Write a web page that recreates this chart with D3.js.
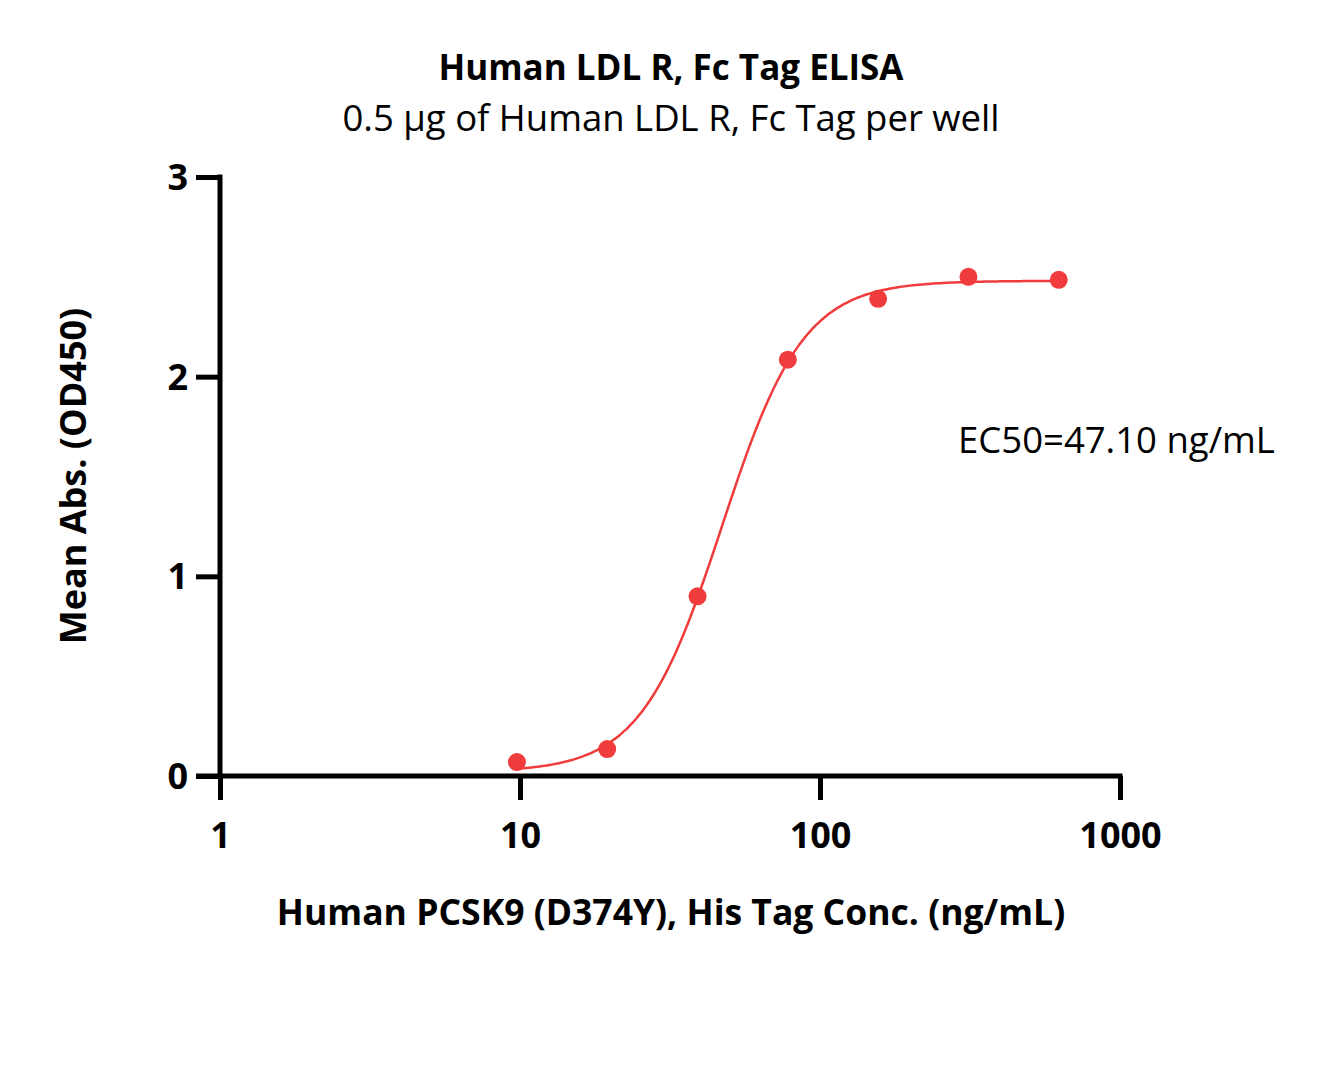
<!DOCTYPE html>
<html><head><meta charset="utf-8">
<script src="https://cdn.jsdelivr.net/npm/d3@7"></script>
<style>body{margin:0;background:#fff}svg{display:block}text{font-family:"Open Sans","Noto Sans",sans-serif}</style>
</head><body><svg id="c" width="1318" height="1083"></svg>
<script>
const concentrations = [9.77, 19.53, 39.06, 78.13, 156.25, 312.5, 625];
const meanAbs = [0.07, 0.135, 0.9, 2.085, 2.39, 2.5, 2.485];
const xTicks = [1, 10, 100, 1000];
const yTicks = [0, 1, 2, 3];
const fitTop = 2.48, fitBottom = 0.02, fitEC50 = 47.1, fitHill = 3.2;
const title = "Human LDL R, Fc Tag ELISA";
const subtitle = "0.5 µg of Human LDL R, Fc Tag per well";
const xLabel = "Human PCSK9 (D374Y), His Tag Conc. (ng/mL)";
const yLabel = "Mean Abs. (OD450)";
const ec50Label = "EC50=47.10 ng/mL";
const red = "#f03c3c";

const svg = d3.select("#c");
const x = d3.scaleLog().domain([1, 1000]).range([220, 1120]);
const y = d3.scaleLinear().domain([0, 3]).range([776, 177]);

svg.append("text").attr("x", 671).attr("y", 80).attr("text-anchor", "middle")
  .attr("font-size", 35).attr("font-weight", "bold").text(title);
svg.append("text").attr("x", 671).attr("y", 131).attr("text-anchor", "middle")
  .attr("font-size", 36.5).text(subtitle);

const yAxis = svg.append("g").attr("transform", "translate(220,0)")
  .call(d3.axisLeft(y).tickValues(yTicks).tickFormat(d3.format("d")).tickSize(24).tickPadding(8));
const xAxis = svg.append("g").attr("transform", "translate(0,776)")
  .call(d3.axisBottom(x).tickValues(xTicks).tickFormat(d3.format("d")).tickSize(24).tickPadding(22));
[yAxis, xAxis].forEach(g => {
  g.select(".domain").remove();
  g.selectAll(".tick line").attr("stroke", "#000").attr("stroke-width", 5);
  g.selectAll(".tick text").attr("font-size", 36).attr("font-weight", "bold").attr("fill", "#000")
    .attr("font-family", "'Open Sans',sans-serif");
});
yAxis.selectAll(".tick text").attr("dy", "0.35em");
svg.append("line").attr("x1", 220).attr("x2", 220).attr("y1", y(3) - 2.5).attr("y2", 776)
  .attr("stroke", "#000").attr("stroke-width", 5);
svg.append("line").attr("x1", 196).attr("x2", x(1000) + 2.5).attr("y1", 776).attr("y2", 776)
  .attr("stroke", "#000").attr("stroke-width", 5);

const fit = c => fitBottom + (fitTop - fitBottom) / (1 + Math.pow(fitEC50 / c, fitHill));
const logs = d3.range(Math.log10(concentrations[0]), Math.log10(concentrations[concentrations.length - 1]) + 1e-9, 0.01);
svg.append("path").datum(logs.map(l => Math.pow(10, l)))
  .attr("d", d3.line().x(c => x(c)).y(c => y(fit(c))).curve(d3.curveMonotoneX))
  .attr("fill", "none").attr("stroke", red).attr("stroke-width", 2.5);

svg.selectAll("circle.pt").data(concentrations).enter().append("circle").attr("class", "pt")
  .attr("cx", d => x(d)).attr("cy", (d, i) => y(meanAbs[i])).attr("r", 9).attr("fill", red);

svg.append("text").attr("x", 958).attr("y", 453).attr("font-size", 36.5).text(ec50Label);
svg.append("text").attr("x", 671).attr("y", 925).attr("text-anchor", "middle")
  .attr("font-size", 35.5).attr("font-weight", "bold").text(xLabel);
svg.append("text").attr("transform", "translate(86,476) rotate(-90)").attr("text-anchor", "middle")
  .attr("font-size", 36).attr("font-weight", "bold").text(yLabel);
</script></body></html>
